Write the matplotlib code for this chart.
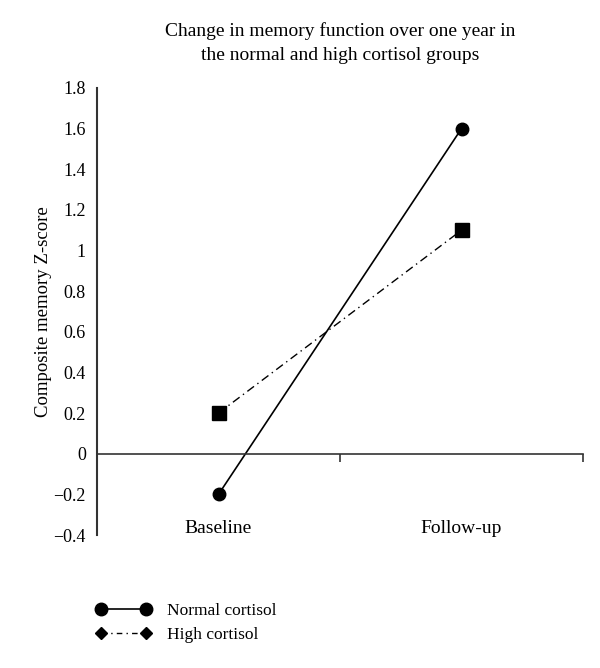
import matplotlib
matplotlib.use("Agg")
import matplotlib.pyplot as plt
from matplotlib.lines import Line2D

plt.rcParams['font.family'] = ['Liberation Serif', 'DejaVu Serif']

categories = ["Baseline", "Follow-up"]
normal = [-0.2, 1.6]
high = [0.2, 1.1]
yticks = [-0.4, -0.2, 0, 0.2, 0.4, 0.6, 0.8, 1, 1.2, 1.4, 1.6, 1.8]
ytick_labels = ["\u22120.4", "\u22120.2", "0", "0.2", "0.4", "0.6", "0.8", "1", "1.2", "1.4", "1.6", "1.8"]

fig = plt.figure(figsize=(6, 6.68), dpi=100)
ax = fig.add_axes([97/600, 1-535/668, (583-97)/600, (535-88)/668])

xs = [i + 0.5 for i in range(len(categories))]
ax.plot(xs, normal, color='black', lw=1.2, marker='o', ms=9)
ax.plot(xs, high, color='black', lw=1.0, ls=(0, (6, 3, 1, 3)), marker='s', ms=10)

ax.set_xlim(0, 2)
ax.set_ylim(-0.4, 1.8)
ax.set_yticks(yticks)
ax.set_yticklabels(ytick_labels, fontsize=13)
ax.tick_params(axis='y', length=0, pad=8)
ax.set_xticks([1, 2])
ax.set_xticklabels([])
ax.tick_params(axis='x', direction='out', length=6, width=1.2, color='#333333')

for s in ['top', 'right']:
    ax.spines[s].set_visible(False)
ax.spines['bottom'].set_position(('data', 0))
for s in ['left', 'bottom']:
    ax.spines[s].set_color('#333333')
ax.spines['left'].set_linewidth(1.5)
ax.spines['bottom'].set_linewidth(1.2)

for x, c in zip(xs, categories):
    ax.text(x, -0.37, c, ha='center', va='center', fontsize=14)

ax.set_ylabel("Composite memory Z-score", fontsize=13.5, labelpad=1)
fig.text(340/600, 1-43/668, "Change in memory function over one year in\nthe normal and high cortisol groups",
         ha='center', va='center', fontsize=14, linespacing=1.6)

handles = [
    Line2D([], [], color='black', lw=1.2, marker='o', ms=9),
    Line2D([], [], color='black', lw=1.0, ls=(0, (4, 3, 1, 3)), marker='D', ms=6),
]
fig.legend(handles, ["Normal cortisol", "High cortisol"], loc='center left',
           bbox_to_anchor=(80/600, 1-623/668), frameon=False, fontsize=12.5,
           numpoints=2, handlelength=3.2, handletextpad=0.9, labelspacing=0.45)

fig.savefig("out.png", dpi=100)
